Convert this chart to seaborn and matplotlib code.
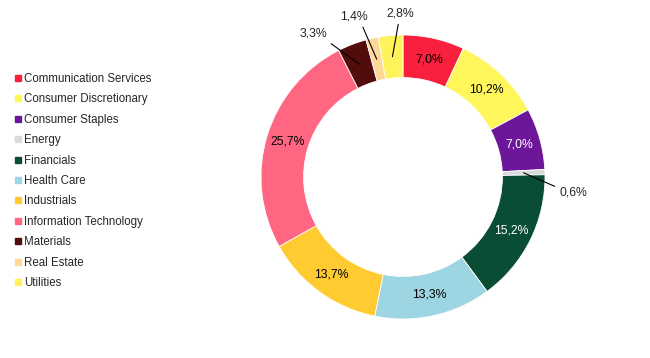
import numpy as np
import seaborn as sns
import matplotlib.pyplot as plt
from matplotlib.lines import Line2D

sectors = ['Communication Services', 'Consumer Discretionary', 'Consumer Staples', 'Energy',
           'Financials', 'Health Care', 'Industrials', 'Information Technology',
           'Materials', 'Real Estate', 'Utilities']
weights = [7.0, 10.2, 7.0, 0.6, 15.2, 13.3, 13.7, 25.7, 3.3, 1.4, 2.8]
colors = ['#F9203D', '#FFF65C', '#6C1699', '#DADADA', '#084D34', '#9DD5E3',
          '#FFCB31', '#FF6681', '#520C0C', '#FFD798', '#FFF35C']
white_text = ['Consumer Staples', 'Financials']

# small slices get an outside label with a leader line: (x, y, ha) in pie radius units
outside = {
    'Energy': (1.10, -0.11, 'left'),
    'Materials': (-0.535, 1.01, 'right'),
    'Real Estate': (-0.245, 1.13, 'right'),
    'Utilities': (-0.02, 1.15, 'center'),
}

sns.set_theme(style='white')
plt.rcParams['font.family'] = ['Liberation Sans', 'DejaVu Sans']
palette = sns.color_palette(colors)

fig = plt.figure(figsize=(6.5, 3.58), dpi=100)
ax = fig.add_axes([0, 0, 1, 1])

R = 142.0
cx, cy = 403, 181  # pie centre in pixels from bottom-left
wedges, _ = ax.pie(weights, colors=palette, startangle=90, counterclock=False,
                   radius=1, wedgeprops=dict(width=0.3, edgecolor='white', linewidth=0.6))
ax.set_xlim(-cx / R, (650 - cx) / R)
ax.set_ylim(-cy / R, (358 - cy) / R)
ax.set_aspect('equal')
ax.axis('off')

for w, name, val in zip(wedges, sectors, weights):
    mid = np.deg2rad((w.theta1 + w.theta2) / 2)
    px, py = 0.85 * np.cos(mid), 0.85 * np.sin(mid)
    txt = f'{val:.1f}'.replace('.', ',') + '%'
    if name in outside:
        tx, ty, ha = outside[name]
        if ha == 'center':
            cs = 'arc3'
        else:
            cs = 'arc,angleA=%d,armA=4,angleB=0,armB=0,rad=0' % (0 if ha == 'right' else 180)
        ax.annotate(txt, xy=(px, py), xytext=(tx, ty), ha=ha, va='center', fontsize=8.8,
                    arrowprops=dict(arrowstyle='-', color='black', lw=0.8,
                                    connectionstyle=cs, shrinkA=1, shrinkB=0))
    else:
        ax.text(px, py, txt, ha='center', va='center', fontsize=8.8,
                color='white' if name in white_text else 'black')

handles = [Line2D([], [], marker='s', linestyle='', markersize=5, color=c) for c in palette]
fig.legend(handles, sectors, loc='upper left', bbox_to_anchor=(14 / 650, 1 - 73 / 358),
           frameon=False, fontsize=8.3, handlelength=0.7, handletextpad=0.2,
           labelspacing=0.73, borderpad=0, borderaxespad=0)

fig.savefig('out.png', dpi=100)
